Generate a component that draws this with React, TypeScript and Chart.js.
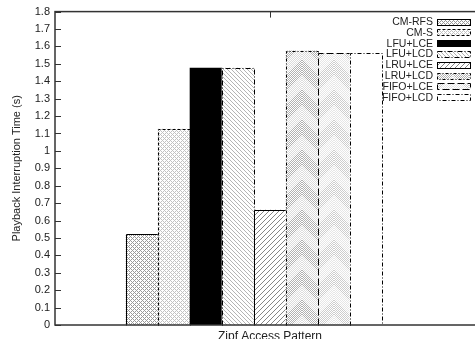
import React, { useEffect, useRef } from 'react';
import { Chart, registerables } from 'chart.js';

Chart.register(...registerables);

// ---- data ----
const categories = ['Zipf Access Pattern'];
const seriesNames = ['CM-RFS', 'CM-S', 'LFU+LCE', 'LFU+LCD', 'LRU+LCE', 'LRU+LCD', 'FIFO+LCE', 'FIFO+LCD'];
const seriesValues = [0.52, 1.125, 1.475, 1.475, 0.66, 1.575, 1.56, 1.56];
const yTickLabels = ['0', '0.1', '0.2', '0.3', '0.4', '0.5', '0.6', '0.7', '0.8', '0.9', '1', '1.1', '1.2', '1.3', '1.4', '1.5', '1.6', '1.7', '1.8'];
const yAxisTitle = 'Playback Interruption Time (s)';

// ---- styles ----
type FillKind = 'cross' | 'crossLight' | 'black' | 'back' | 'fwd' | 'chevDark' | 'chevLight' | 'none';
const seriesFills: FillKind[] = ['cross', 'crossLight', 'black', 'back', 'fwd', 'chevDark', 'chevLight', 'none'];
const seriesDashes: number[][] = [[], [3, 2], [], [5, 2, 1, 2], [], [3, 2, 1, 2], [7, 3], [4, 2, 1, 2]];

const FONT = "'Liberation Sans', Arial, Helvetica, sans-serif";
const TEXT = '#222';
const AXIS = '#333';
const CANVAS_W = 492;
const CANVAS_H = 345;

function pixelPattern(ctx: CanvasRenderingContext2D, w: number, h: number, f: (x: number, y: number) => string | null) {
  const c = document.createElement('canvas');
  c.width = w;
  c.height = h;
  const g = c.getContext('2d')!;
  g.fillStyle = '#fff';
  g.fillRect(0, 0, w, h);
  for (let y = 0; y < h; y++) {
    for (let x = 0; x < w; x++) {
      const col = f(x, y);
      if (col) {
        g.fillStyle = col;
        g.fillRect(x, y, 1, 1);
      }
    }
  }
  return ctx.createPattern(c, 'repeat')!;
}

const mod = (a: number, n: number) => ((a % n) + n) % n;

function makeFill(ctx: CanvasRenderingContext2D, kind: FillKind): string | CanvasPattern {
  switch (kind) {
    case 'black':
      return '#000';
    case 'none':
      return '#fff';
    case 'cross':
      return pixelPattern(ctx, 4, 4, (x, y) => (mod(x + y, 4) === 0 || mod(x - y, 4) === 0 ? '#9a9a9a' : null));
    case 'crossLight':
      return pixelPattern(ctx, 4, 4, (x, y) => (mod(x + y, 4) === 0 || mod(x - y, 4) === 0 ? '#c2c2c2' : null));
    case 'back':
      return pixelPattern(ctx, 4, 4, (x, y) => (mod(x - y, 4) === 0 ? '#b4b4b4' : null));
    case 'fwd':
      return pixelPattern(ctx, 5, 5, (x, y) => (mod(x + y, 5) === 0 ? '#858585' : null));
    case 'chevDark':
    case 'chevLight': {
      const dark = kind === 'chevDark';
      return pixelPattern(ctx, 32, 30, (x, y) => {
        const dx = x < 16 ? 15 - x : x - 16;
        const u = y - dx;
        if (mod(u, 2) !== 0) return null;
        const band = Math.floor(mod(u, 30) / 15);
        if (dark) return band === 0 ? '#b2b2b2' : '#dcdcdc';
        return band === 0 ? '#cdcdcd' : '#e6e6e6';
      });
    }
  }
}

function setPatternOrigin(fill: string | CanvasPattern, x: number) {
  if (typeof fill !== 'string' && (fill as any).setTransform) {
    (fill as CanvasPattern).setTransform(new DOMMatrix([1, 0, 0, 1, x, 0]));
  }
}

export default function App() {
  const ref = useRef<HTMLCanvasElement | null>(null);

  useEffect(() => {
    const canvas = ref.current!;
    const ctx0 = canvas.getContext('2d')!;
    const fills = seriesFills.map((k) => makeFill(ctx0, k));
    const n = seriesNames.length;
    const center = n / 2; // cluster offset (gnuplot style)
    const half = 6.72;

    const datasets = seriesNames.map((name, i) => ({
      label: name,
      data: [{ x: i - center, y: seriesValues[i] }],
      backgroundColor: fills[i] as any,
      borderWidth: 0,
      barPercentage: 1,
      categoryPercentage: 1,
      grouped: false,
      order: n - i,
    }));

    const decor = {
      id: 'decor',
      beforeDatasetsDraw(chart: any) {
        const { ctx, chartArea: a, scales } = chart;
        const x = scales.x;
        const y = scales.y;
        ctx.save();
        ctx.strokeStyle = AXIS;
        ctx.lineWidth = 1;
        ctx.beginPath();
        y.ticks.forEach((t: any) => {
          const py = Math.round(y.getPixelForValue(t.value)) + 0.5;
          ctx.moveTo(a.left, py);
          ctx.lineTo(a.left + 6, py);
          ctx.moveTo(a.right, py);
          ctx.lineTo(a.right - 6, py);
        });
        x.ticks.forEach((t: any) => {
          const px = Math.round(x.getPixelForValue(t.value)) + 0.5;
          ctx.moveTo(px, a.bottom);
          ctx.lineTo(px, a.bottom - 6);
          ctx.moveTo(px, a.top);
          ctx.lineTo(px, a.top + 6);
        });
        ctx.stroke();
        ctx.restore();
      },
      beforeDatasetDraw(chart: any, args: any) {
        const el = args.meta.data[0];
        if (el) setPatternOrigin(fills[args.index], Math.round(el.x - el.width / 2));
      },
      afterDatasetDraw(chart: any, args: any) {
        const { ctx } = chart;
        const i = args.index;
        ctx.save();
        ctx.strokeStyle = '#000';
        ctx.lineWidth = 1;
        ctx.setLineDash(seriesDashes[i]);
        args.meta.data.forEach((el: any) => {
          const p = el.getProps(['x', 'y', 'base', 'width'], true);
          const l = Math.round(p.x - p.width / 2) + 0.5;
          const r = Math.round(p.x + p.width / 2) + 0.5;
          const t = Math.round(p.y) + 0.5;
          const b = Math.round(p.base) + 0.5;
          ctx.beginPath();
          ctx.moveTo(l, b);
          ctx.lineTo(l, t);
          ctx.lineTo(r, t);
          ctx.lineTo(r, b);
          ctx.stroke();
        });
        ctx.restore();
      },
      afterDatasetsDraw(chart: any) {
        const { ctx, chartArea: a } = chart;
        ctx.save();
        ctx.strokeStyle = AXIS;
        ctx.lineWidth = 1.5;
        ctx.strokeRect(a.left, a.top, a.right - a.left, a.bottom - a.top);
        ctx.restore();
      },
      afterDraw(chart: any) {
        const { ctx, chartArea: a } = chart;
        const textRight = a.right - 52;
        const sampleLeft = textRight + 4;
        const sampleW = 33;
        const sampleH = 6;
        const rowTop = a.top + 10;
        const rowStep = 10.8;
        ctx.save();
        ctx.font = `10.5px ${FONT}`;
        ctx.textAlign = 'right';
        ctx.textBaseline = 'middle';
        seriesNames.forEach((name, i) => {
          const cy = rowTop + i * rowStep;
          ctx.fillStyle = TEXT;
          ctx.fillText(name, textRight, cy + 0.5);
          const top = Math.round(cy - sampleH / 2) + 0.5;
          setPatternOrigin(fills[i], sampleLeft);
          ctx.fillStyle = fills[i] as any;
          ctx.fillRect(sampleLeft + 0.5, top, sampleW, sampleH);
          ctx.strokeStyle = '#000';
          ctx.lineWidth = 1;
          ctx.setLineDash(seriesDashes[i]);
          ctx.strokeRect(sampleLeft + 0.5, top, sampleW, sampleH);
          ctx.setLineDash([]);
        });
        ctx.restore();
      },
    };

    const chart = new Chart(canvas, {
      type: 'bar',
      data: { labels: categories, datasets: datasets as any },
      options: {
        responsive: false,
        animation: false,
        events: [],
        devicePixelRatio: 1,
        layout: { padding: { left: 0, top: 10, right: 7, bottom: 0 } },
        plugins: { legend: { display: false }, tooltip: { enabled: false } },
        scales: {
          x: {
            type: 'linear',
            offset: false,
            min: -half,
            max: half,
            grid: { display: false, drawTicks: false, offset: false },
            border: { display: false },
            afterBuildTicks: (s: any) => {
              s.ticks = [{ value: 0 }];
            },
            afterFit: (s: any) => {
              s.height = 20;
            },
            ticks: {
              autoSkip: false,
              maxRotation: 0,
              padding: 4,
              color: TEXT,
              font: { family: FONT, size: 12 },
              callback: () => categories[0],
            },
          },
          y: {
            type: 'linear',
            min: 0,
            max: 1.8,
            grid: { display: false, drawTicks: false },
            border: { display: false },
            afterBuildTicks: (s: any) => {
              s.ticks = yTickLabels.map((l) => ({ value: parseFloat(l) }));
            },
            afterFit: (s: any) => {
              s.width = 55;
            },
            ticks: {
              autoSkip: false,
              padding: 5,
              color: TEXT,
              font: { family: FONT, size: 11 },
              callback: (_v: any, idx: number) => yTickLabels[idx],
            },
            title: {
              display: true,
              text: yAxisTitle,
              color: TEXT,
              font: { family: FONT, size: 11 },
              padding: { top: 10, bottom: 0 },
            },
          },
        },
      },
      plugins: [decor],
    });
    return () => chart.destroy();
  }, []);

  return (
    <div style={{ position: 'fixed', left: 0, top: 0, width: 475, height: 339, overflow: 'hidden', background: '#fff' }}>
      <canvas ref={ref} width={CANVAS_W} height={CANVAS_H} style={{ display: 'block', width: CANVAS_W, height: CANVAS_H }} />
    </div>
  );
}
